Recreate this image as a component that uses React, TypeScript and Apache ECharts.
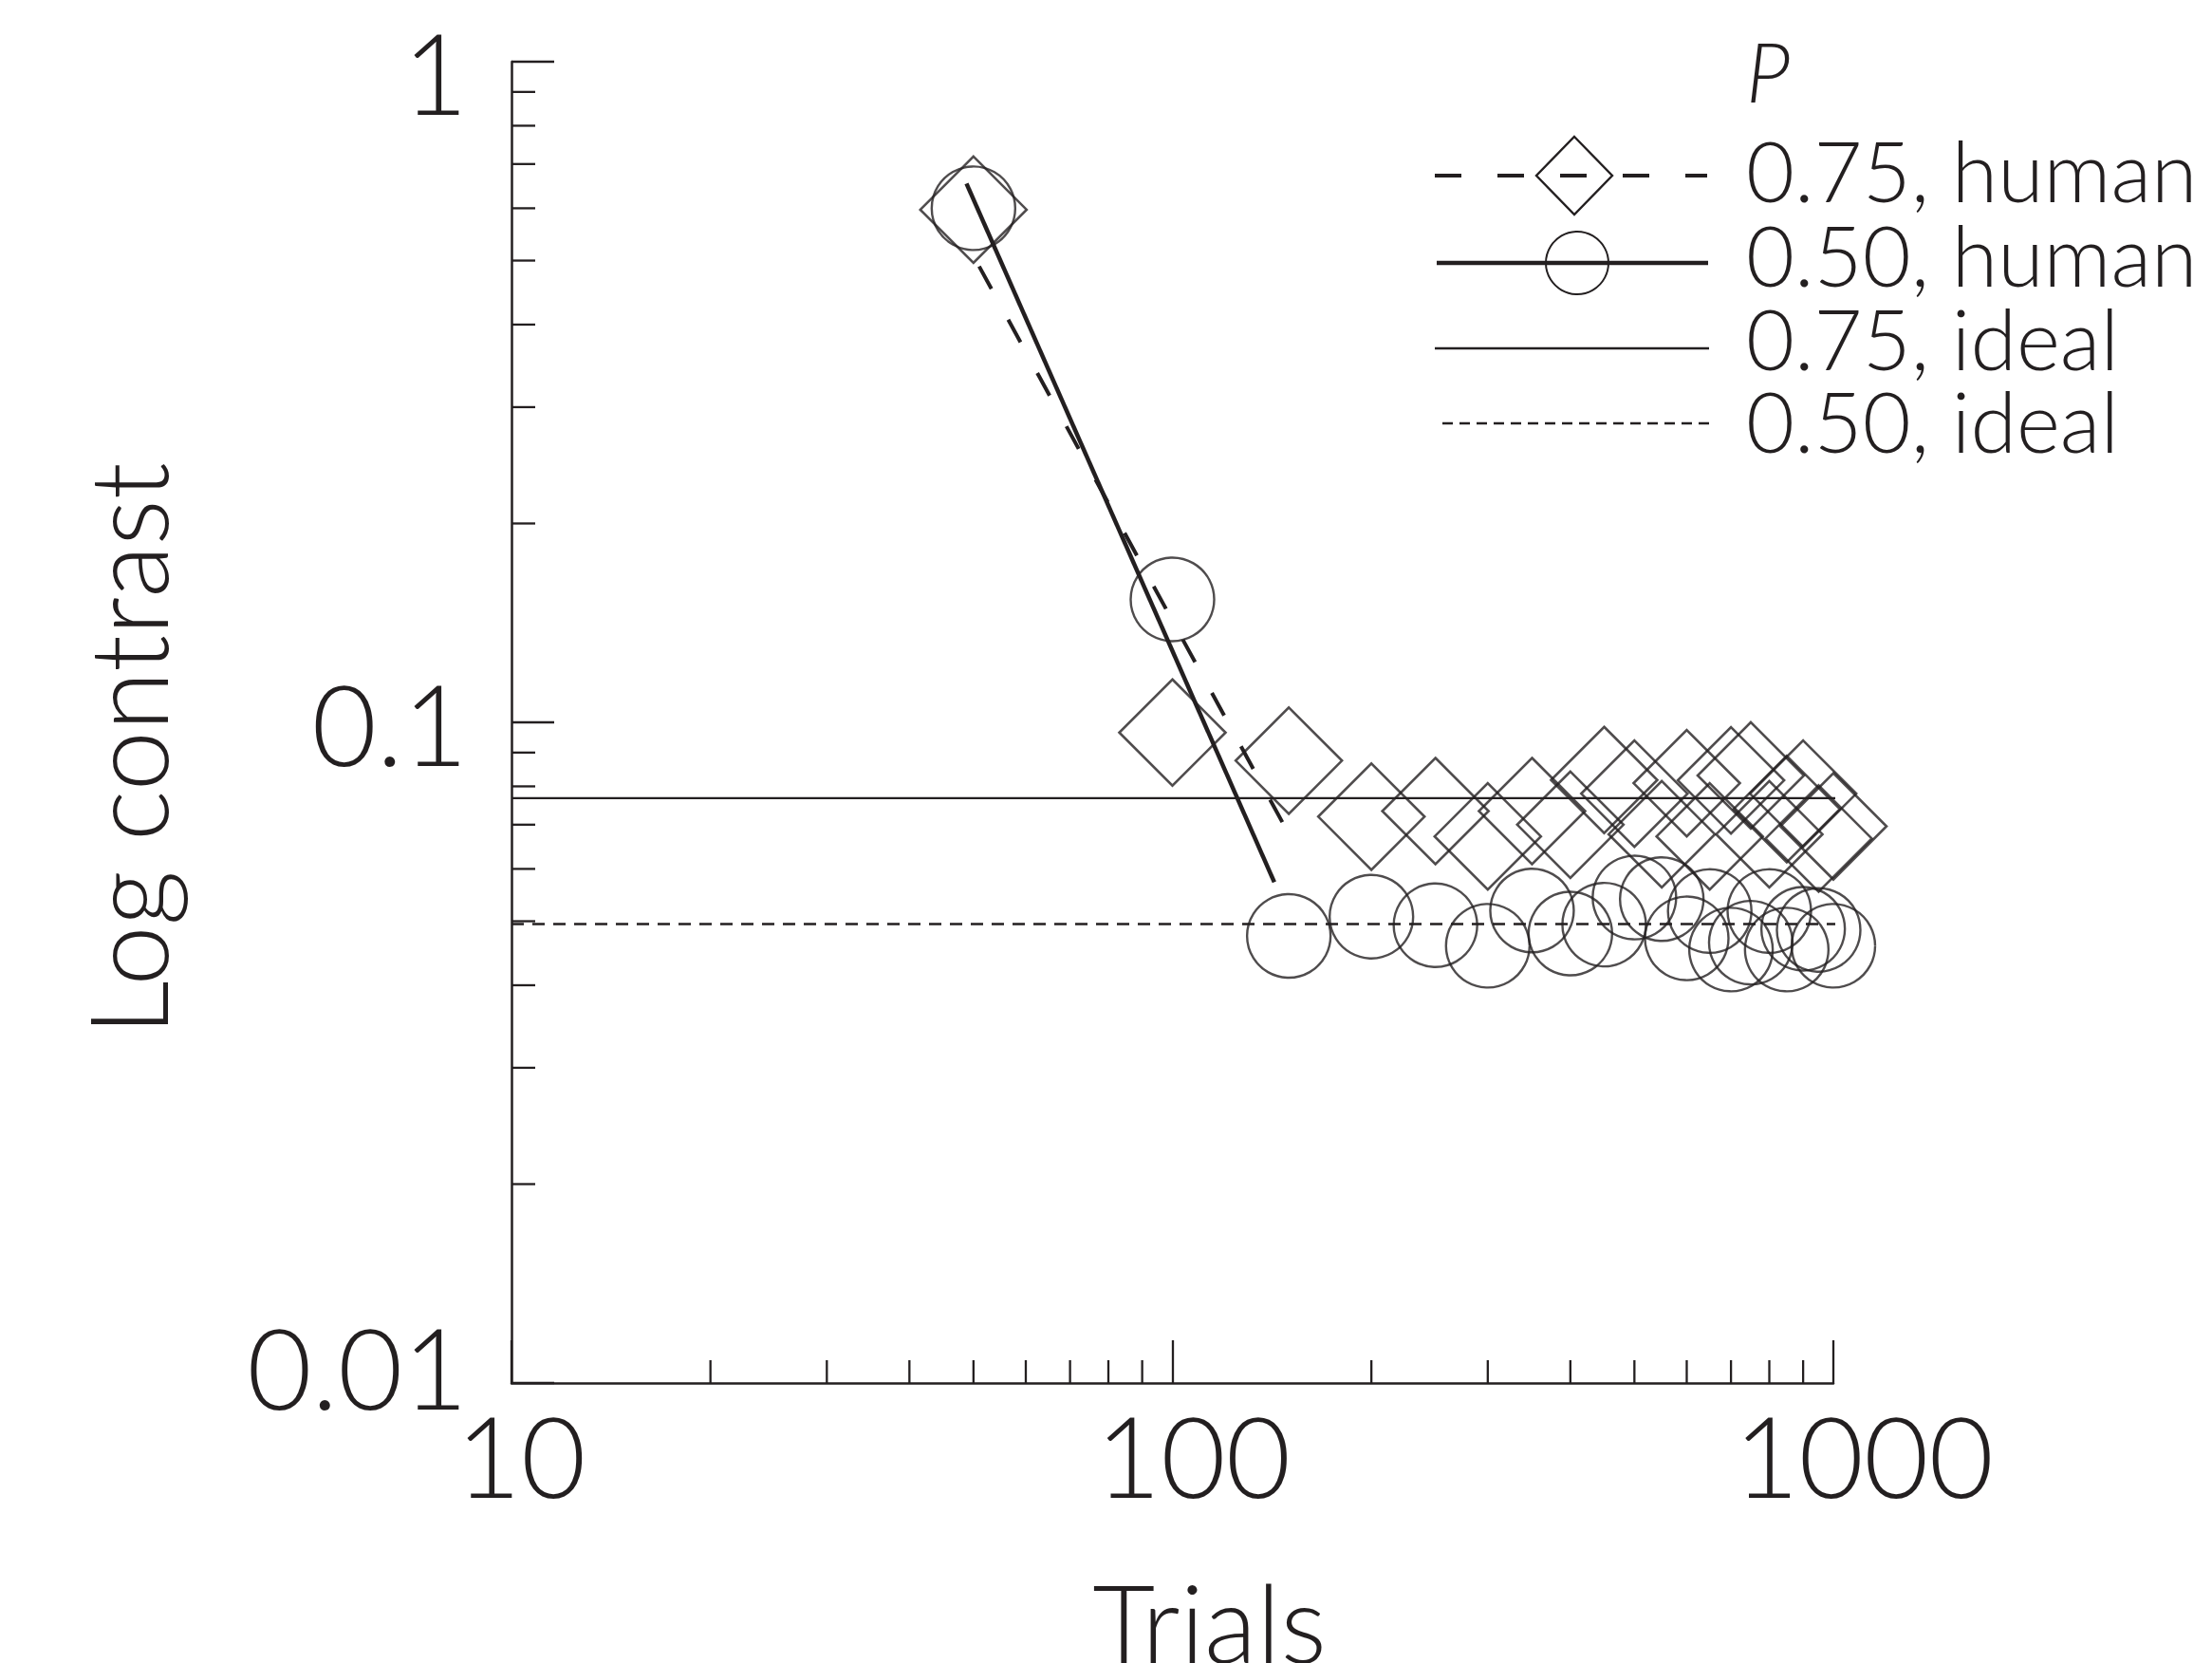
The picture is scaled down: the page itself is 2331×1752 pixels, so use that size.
import React, { useEffect, useRef } from 'react';
import * as echarts from 'echarts';

// ---- data ----
const trials = [50, 100, 150, 200, 250, 300, 350, 400, 450, 500, 550, 600, 650, 700, 750, 800, 850, 900, 950, 1000];
const human75 = [0.597, 0.0965, 0.0875, 0.072, 0.0734, 0.0672, 0.0734, 0.07, 0.0818, 0.078, 0.0677, 0.0809, 0.0672, 0.0817, 0.0831, 0.0677, 0.0739, 0.078, 0.0667, 0.0696];
const human50 = [0.6, 0.1535, 0.0475, 0.0508, 0.0493, 0.0459, 0.0519, 0.0479, 0.0494, 0.0543, 0.054, 0.0471, 0.0518, 0.0453, 0.0464, 0.0518, 0.0453, 0.0487, 0.0485, 0.0459];

const fit75Trials = [51, 147.6];
const fit75Contrast = [0.49, 0.0698];
const fit50Trials = [48.8, 142.6];
const fit50Contrast = [0.654, 0.0573];

const ideal75Trials = [10, 1055];
const ideal75Contrast = [0.0768, 0.0768];
const ideal50Trials = [10, 1045];
const ideal50Contrast = [0.0495, 0.0495];

const xMinorTicks = [20, 30, 40, 50, 60, 70, 80, 90, 200, 300, 400, 500, 600, 700, 800, 900];
const yMinorTicks = [0.02, 0.03, 0.04, 0.05, 0.06, 0.07, 0.08, 0.09, 0.2, 0.3, 0.4, 0.5, 0.6, 0.7, 0.8, 0.9];
const xTickLabels = ['10', '100', '1000'];
const yTickLabels = ['0.01', '0.1', '1'];

const legendTitle = 'P';
const legendLabels = ['0.75, human', '0.50, human', '0.75, ideal', '0.50, ideal'];
const xAxisTitle = 'Trials';
const yAxisTitle = 'Log contrast';

// ---- styles ----
const INK = '#231f20';
const FONT = '"Lato Light", Lato, "Open Sans", sans-serif';
const FW = 300;

const zip = (a: number[], b: number[]) => a.map((v, i) => [v, b[i]]);

export default function App() {
  const ref = useRef<HTMLDivElement | null>(null);

  useEffect(() => {
    if (!ref.current) return;
    const chart = echarts.init(ref.current, null, { renderer: 'svg' });

    const labelBase = { fontFamily: FONT, fontWeight: FW, fontSize: 118, color: INK };

    const legendX = 1840;
    const rowY = [179, 268, 356, 442.5];
    const symY = [185, 277, 367, 446];

    const option: any = {
      animation: false,
      backgroundColor: '#ffffff',
      grid: { left: 539, right: 399, top: 65, bottom: 295, containLabel: false, outerBoundsMode: 'none' },
      xAxis: {
        type: 'log',
        logBase: 10,
        min: 10,
        max: 1000,
        name: xAxisTitle,
        nameLocation: 'middle',
        nameGap: 193,
        nameMoveOverlap: false,
        nameTextStyle: { fontFamily: FONT, fontWeight: FW, fontSize: 114, color: INK, padding: [0, 0, 0, 78] },
        axisLine: { show: true, lineStyle: { color: INK, width: 2.5 } },
        axisTick: { show: true, inside: true, length: 45, lineStyle: { color: INK, width: 2.3 } },
        splitLine: { show: false },
        minorTick: { show: false },
        axisLabel: {
          margin: 16,
          showMinLabel: true,
          showMaxLabel: true,
          hideOverlap: false,
          formatter: (v: number) => {
            const idx = Math.round(Math.log10(v)) - 1;
            return `{x${idx}|${xTickLabels[idx] ?? ''}}`;
          },
          rich: {
            x0: { ...labelBase, padding: [0, 0, 0, 20] },
            x1: { ...labelBase, padding: [0, 0, 0, 44] },
            x2: { ...labelBase, padding: [0, 0, 0, 64] },
          },
        },
      },
      yAxis: {
        type: 'log',
        logBase: 10,
        min: 0.01,
        max: 1,
        name: yAxisTitle,
        nameLocation: 'middle',
        nameGap: 350,
        nameMoveOverlap: false,
        nameTextStyle: { fontFamily: FONT, fontWeight: FW, fontSize: 114, color: INK, padding: [0, 56, 0, 0] },
        axisLine: { show: true, lineStyle: { color: INK, width: 2.5 } },
        axisTick: { show: true, inside: true, length: 45, lineStyle: { color: INK, width: 2.3 } },
        splitLine: { show: false },
        minorTick: { show: false },
        axisLabel: {
          margin: 46,
          showMinLabel: true,
          showMaxLabel: true,
          hideOverlap: false,
          formatter: (v: number) => {
            const idx = Math.round(Math.log10(v)) + 2;
            return `{y${idx}|${yTickLabels[idx] ?? ''}}`;
          },
          rich: {
            y0: { ...labelBase, padding: [0, 0, 36, 0] },
            y1: { ...labelBase },
            y2: { ...labelBase, padding: [20, 0, 0, 0] },
          },
        },
      },
      series: [
        {
          name: 'ideal75',
          type: 'line',
          data: zip(ideal75Trials, ideal75Contrast),
          showSymbol: false,
          symbol: 'none',
          clip: false,
          silent: true,
          lineStyle: { color: INK, width: 2.3 },
        },
        {
          name: 'ideal50',
          type: 'line',
          data: zip(ideal50Trials, ideal50Contrast),
          showSymbol: false,
          symbol: 'none',
          clip: false,
          silent: true,
          lineStyle: { color: INK, width: 2.5, type: [13, 9] },
        },
        {
          name: 'human75',
          type: 'scatter',
          data: zip(trials, human75),
          symbol: 'diamond',
          symbolSize: 112,
          clip: false,
          silent: true,
          itemStyle: { color: 'rgba(0,0,0,0)', borderColor: INK, borderWidth: 2.6 },
        },
        {
          name: 'human50',
          type: 'scatter',
          data: zip(trials, human50),
          symbol: 'circle',
          symbolSize: 88,
          clip: false,
          silent: true,
          itemStyle: { color: 'rgba(0,0,0,0)', borderColor: INK, borderWidth: 2.4 },
        },
        {
          name: 'fit75',
          type: 'line',
          data: zip(fit75Trials, fit75Contrast),
          showSymbol: false,
          symbol: 'none',
          clip: false,
          silent: true,
          lineStyle: { color: INK, width: 4, type: [27, 37] },
        },
        {
          name: 'fit50',
          type: 'line',
          data: zip(fit50Trials, fit50Contrast),
          showSymbol: false,
          symbol: 'none',
          clip: false,
          silent: true,
          lineStyle: { color: INK, width: 4.5 },
        },
        {
          name: 'xMinor',
          type: 'custom',
          silent: true,
          clip: false,
          data: xMinorTicks.map((v) => [v, 0.01]),
          renderItem: (params: any, api: any) => {
            const p = api.coord([api.value(0), api.value(1)]);
            return {
              type: 'line',
              shape: { x1: p[0], y1: p[1], x2: p[0], y2: p[1] - 24 },
              style: { stroke: INK, lineWidth: 2.3 },
            };
          },
        },
        {
          name: 'yMinor',
          type: 'custom',
          silent: true,
          clip: false,
          data: yMinorTicks.map((v) => [10, v]),
          renderItem: (params: any, api: any) => {
            const p = api.coord([api.value(0), api.value(1)]);
            return {
              type: 'line',
              shape: { x1: p[0], y1: p[1], x2: p[0] + 25, y2: p[1] },
              style: { stroke: INK, lineWidth: 2.3 },
            };
          },
        },
      ],
      graphic: {
        elements: [
          {
            type: 'text',
            x: legendX,
            y: 74,
            silent: true,
            style: { text: legendTitle, fontFamily: FONT, fontWeight: FW, fontStyle: 'italic', fontSize: 86, fill: INK, align: 'left', verticalAlign: 'middle' },
          },
          ...legendLabels.map((t, i) => ({
            type: 'text',
            x: legendX,
            y: rowY[i],
            silent: true,
            style: { text: t, fontFamily: FONT, fontWeight: FW, fontSize: 88, fill: INK, align: 'left', verticalAlign: 'middle' },
          })),
          // row 1: dashed + diamond
          {
            type: 'line', silent: true,
            shape: { x1: 1512, y1: symY[0], x2: 1799, y2: symY[0] },
            style: { stroke: INK, lineWidth: 4, lineDash: [28, 38] },
          },
          {
            type: 'polygon', silent: true,
            shape: { points: [[1659, symY[0] - 41], [1699, symY[0]], [1659, symY[0] + 41], [1619, symY[0]]] },
            style: { fill: 'none', stroke: INK, lineWidth: 2.4 },
          },
          // row 2: thick solid + circle
          {
            type: 'line', silent: true,
            shape: { x1: 1514, y1: symY[1], x2: 1800, y2: symY[1] },
            style: { stroke: INK, lineWidth: 4.5 },
          },
          {
            type: 'circle', silent: true,
            shape: { cx: 1662, cy: symY[1], r: 33 },
            style: { fill: 'none', stroke: INK, lineWidth: 2 },
          },
          // row 3: thin solid
          {
            type: 'line', silent: true,
            shape: { x1: 1512, y1: symY[2], x2: 1801, y2: symY[2] },
            style: { stroke: INK, lineWidth: 2.5 },
          },
          // row 4: thin dashed
          {
            type: 'line', silent: true,
            shape: { x1: 1520, y1: symY[3], x2: 1803, y2: symY[3] },
            style: { stroke: INK, lineWidth: 2.5, lineDash: [11, 7] },
          },
        ],
      },
    };

    chart.setOption(option);
    return () => chart.dispose();
  }, []);

  return (
    <div
      ref={ref}
      style={{ position: 'absolute', left: 0, top: 0, width: 2331, height: 1752, background: '#ffffff' }}
    />
  );
}
